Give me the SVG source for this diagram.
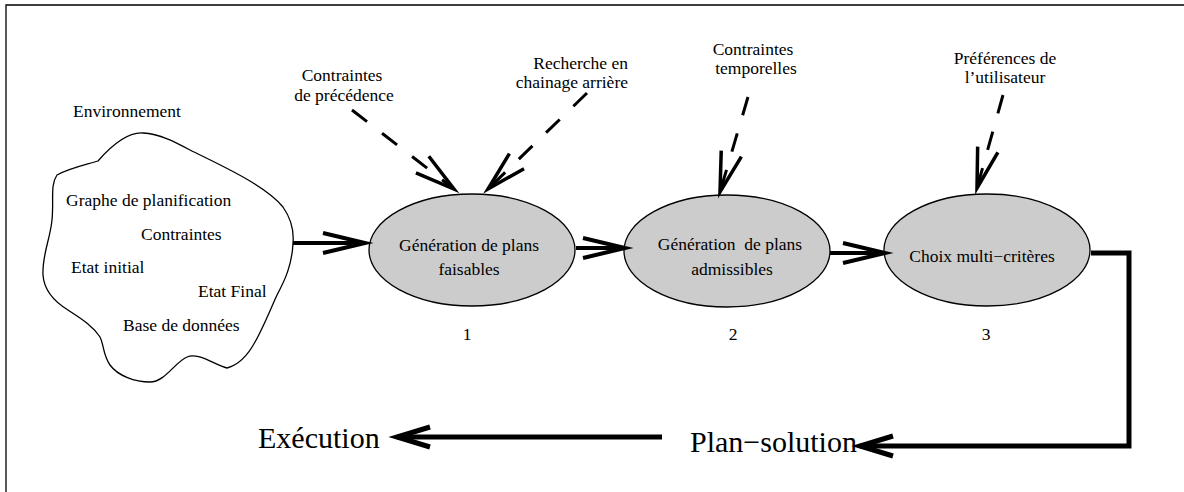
<svg xmlns="http://www.w3.org/2000/svg" width="1184" height="492" viewBox="0 0 1184 492">
<style>
text{font-family:"Liberation Serif","Times New Roman",serif;fill:#000}
.t{font-size:17.5px}
.m{text-anchor:middle}
.big{font-size:30px}
.node{fill:#cccccc;stroke:#000;stroke-width:1.3}
.cloud{fill:#fff;stroke:#000;stroke-width:1.3}
.frame{fill:none;stroke:#000;stroke-width:1.3}
.solid4{fill:none;stroke:#000;stroke-width:4}
.solid5{fill:none;stroke:#000;stroke-width:5;stroke-linejoin:miter}
.dash{fill:none;stroke:#000;stroke-width:3;stroke-dasharray:19 19}
</style>
<defs>
<marker id="ah4" markerUnits="userSpaceOnUse" orient="auto" refX="0" refY="0" overflow="visible">
<path d="M-42,-10 L0,0 L-42,10" fill="none" stroke="#000" stroke-width="4" stroke-miterlimit="10"/>
</marker>
<marker id="ah3" markerUnits="userSpaceOnUse" orient="auto" refX="0" refY="0" overflow="visible">
<path d="M-40,-10.5 L0,0 L-40,10.5" fill="none" stroke="#000" stroke-width="3.5" stroke-miterlimit="10"/>
</marker>
<marker id="ah5" markerUnits="userSpaceOnUse" orient="auto" refX="0" refY="0" overflow="visible">
<path d="M-33,-10 L0,0 L-33,10" fill="none" stroke="#000" stroke-width="5" stroke-miterlimit="10"/>
</marker>
</defs>
<path class="frame" d="M1184,5 H6 V492"/>

<g id="environnement">
<path class="cloud" d="M57,175 C70,168 85,165 98,161 C112,145 128,132 143,133 C160,134 175,142 190,150 C220,165 265,185 283,207 C292,220 294,232 293,243 C292,265 285,280 277,295 C268,315 262,330 255,342 C248,355 238,365 227,368 C215,365 198,352 187,357 C175,362 165,382 150,382 C135,382 118,376 110,365 C103,355 104,345 100,337 C92,325 80,318 68,310 C55,302 44,290 43,275 C42,255 50,240 52,220 C54,200 50,185 57,175 Z"/>
<text class="t" x="73" y="117">Environnement</text>
<text class="t" x="66" y="206">Graphe de planification</text>
<text class="t" x="141" y="240">Contraintes</text>
<text class="t" x="71" y="273">Etat initial</text>
<text class="t" x="198" y="297">Etat Final</text>
<text class="t" x="123" y="331">Base de données</text>
</g>

<g id="n1">
<ellipse class="node" cx="472" cy="250" rx="103" ry="56"/>
<text class="t m" x="469" y="251">Génération de plans</text>
<text class="t m" x="469" y="275">faisables</text>
<text class="t m" x="467" y="340">1</text>
</g>

<g id="n2">
<ellipse class="node" cx="727" cy="251" rx="103" ry="56"/>
<text class="t m" x="730" y="250" style="white-space:pre">Génération  de plans</text>
<text class="t m" x="732" y="275">admissibles</text>
<text class="t m" x="733" y="340">2</text>
</g>

<g id="n3">
<ellipse class="node" cx="987" cy="250" rx="103" ry="56"/>
<text class="t m" x="982" y="262">Choix multi−critères</text>
<text class="t m" x="986" y="340">3</text>
</g>

<g id="l-precedence">
<text class="t m" x="342" y="81">Contraintes</text>
<text class="t m" x="344" y="101">de précédence</text>
</g>
<g id="l-recherche">
<text class="t" x="628" y="69" text-anchor="end">Recherche en</text>
<text class="t" x="628" y="88" text-anchor="end">chainage arrière</text>
</g>
<g id="l-temporelles">
<text class="t m" x="753" y="55">Contraintes</text>
<text class="t m" x="756" y="74">temporelles</text>
</g>
<g id="l-preferences">
<text class="t m" x="1005" y="64">Préférences de</text>
<text class="t m" x="1005" y="83">l’utilisateur</text>
</g>

<g id="execution"><text class="big" x="258" y="448">Exécution</text></g>
<g id="plan-solution"><text class="big" x="690" y="452">Plan−solution</text></g>

<g id="connectors">
<path class="solid4" d="M293,243 H365" marker-end="url(#ah4)"/>
<path class="solid4" d="M576,248 H625" marker-end="url(#ah4)"/>
<path class="solid4" d="M830,253 H885" marker-end="url(#ah4)"/>
<path class="dash" d="M352,110 L454,189" marker-end="url(#ah3)"/>
<path class="dash" d="M587,93 L488,189" marker-end="url(#ah3)"/>
<path class="dash" d="M748,97 L720,192" marker-end="url(#ah3)"/>
<path class="dash" d="M1003,95 L977,188" marker-end="url(#ah3)"/>
<path class="solid5" d="M1091,253 H1129 V446 H860" marker-end="url(#ah5)"/>
<path class="solid5" d="M662,437 H397" marker-end="url(#ah5)"/>
</g>
</svg>
